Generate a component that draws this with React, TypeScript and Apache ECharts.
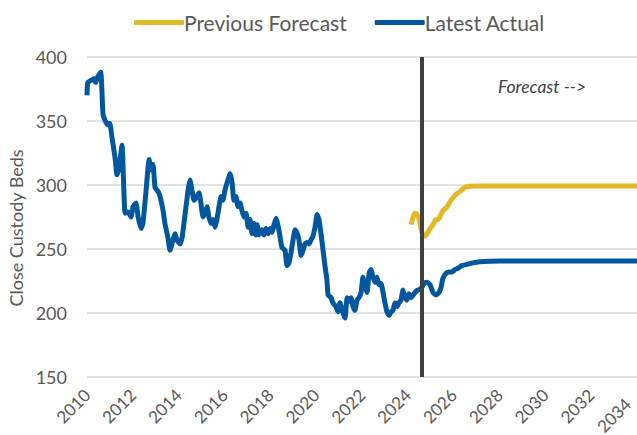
import React, { useEffect, useRef } from "react";
import * as echarts from "echarts";

const xTicks = { min: 2010, max: 2034, interval: 2 };
const yTicks = { min: 150, max: 400, interval: 50 };
const forecastStart = 2024.6;

const latestActual: [number, number][] = [
  [2010.0, 370], [2010.04, 380], [2010.31, 383], [2010.38, 380], [2010.45, 384], [2010.6, 388],
  [2010.7, 355], [2010.83, 349], [2010.92, 347], [2011.0, 348], [2011.09, 337], [2011.22, 322],
  [2011.31, 308], [2011.4, 314], [2011.53, 331], [2011.66, 278], [2011.79, 279], [2011.92, 275],
  [2012.01, 283], [2012.14, 286], [2012.23, 275], [2012.36, 266], [2012.44, 270], [2012.57, 294],
  [2012.71, 320], [2012.79, 312], [2012.88, 316], [2012.97, 298], [2013.1, 295], [2013.19, 291],
  [2013.32, 280], [2013.4, 270], [2013.53, 259], [2013.62, 249], [2013.75, 257], [2013.84, 262],
  [2013.93, 257], [2014.06, 254], [2014.15, 259], [2014.23, 270], [2014.32, 283], [2014.41, 296],
  [2014.49, 304], [2014.58, 296], [2014.67, 288], [2014.8, 291], [2014.89, 294], [2014.97, 286],
  [2015.06, 275], [2015.15, 278], [2015.24, 283], [2015.32, 275], [2015.41, 270], [2015.5, 273],
  [2015.59, 267], [2015.67, 273], [2015.76, 283], [2015.85, 291], [2015.93, 288], [2016.02, 296],
  [2016.15, 304], [2016.24, 309], [2016.33, 302], [2016.41, 288], [2016.5, 291], [2016.59, 283],
  [2016.68, 286], [2016.76, 280], [2016.85, 275], [2016.94, 278], [2017.03, 267], [2017.11, 273],
  [2017.2, 262], [2017.29, 270], [2017.37, 261], [2017.42, 269], [2017.51, 261], [2017.64, 265],
  [2017.72, 261], [2017.81, 266], [2017.9, 262], [2017.99, 266], [2018.07, 263], [2018.16, 269],
  [2018.25, 274], [2018.33, 269], [2018.42, 260], [2018.51, 251], [2018.64, 249], [2018.73, 237],
  [2018.81, 239], [2018.9, 247], [2018.99, 257], [2019.08, 265], [2019.16, 263], [2019.25, 257],
  [2019.34, 245], [2019.43, 249], [2019.51, 254], [2019.6, 255], [2019.69, 254], [2019.77, 257],
  [2019.86, 260], [2019.95, 267], [2020.04, 277], [2020.12, 273], [2020.21, 262], [2020.3, 249],
  [2020.39, 236], [2020.47, 226], [2020.52, 214], [2020.65, 212], [2020.73, 208], [2020.86, 205],
  [2020.95, 201], [2021.04, 208], [2021.17, 200], [2021.26, 196], [2021.35, 212], [2021.43, 209],
  [2021.52, 212], [2021.61, 205], [2021.69, 202], [2021.78, 210], [2021.87, 212], [2021.96, 216],
  [2022.04, 228], [2022.13, 222], [2022.22, 216], [2022.31, 231], [2022.39, 234], [2022.48, 228],
  [2022.57, 224], [2022.65, 228], [2022.74, 222], [2022.83, 223], [2022.92, 216], [2023.0, 208],
  [2023.09, 201], [2023.18, 198], [2023.27, 201], [2023.35, 202], [2023.44, 208], [2023.53, 205],
  [2023.61, 208], [2023.7, 210], [2023.79, 218], [2023.88, 212], [2023.96, 210], [2024.05, 215],
  [2024.14, 212], [2024.23, 214], [2024.31, 216], [2024.44, 218], [2024.57, 219], [2024.71, 223],
  [2024.84, 224], [2024.97, 222], [2025.1, 216], [2025.23, 214], [2025.36, 216], [2025.45, 220],
  [2025.53, 227], [2025.67, 231], [2025.8, 232], [2025.93, 232], [2026.06, 234], [2026.19, 235],
  [2026.36, 237], [2026.58, 238], [2026.8, 239], [2027.15, 240], [2027.59, 240.5], [2028.02, 240.6],
  [2034.0, 240.6],
];

const previousForecast: [number, number][] = [
  [2024.14, 269], [2024.23, 275], [2024.31, 278], [2024.4, 277], [2024.49, 273], [2024.57, 266],
  [2024.66, 261], [2024.75, 260], [2024.84, 262], [2024.97, 266], [2025.1, 269], [2025.23, 273],
  [2025.32, 273], [2025.45, 277], [2025.53, 280], [2025.67, 282], [2025.75, 284], [2025.88, 288],
  [2026.06, 292], [2026.28, 295], [2026.49, 298], [2026.71, 299], [2027.15, 299.3], [2034.0, 299.3],
];

const FONT = "Lato, 'Noto Sans', sans-serif";
const GRAY = "#595959";
const BLUE = "#00579E";
const YELLOW = "#E2B829";

export default function App() {
  const ref = useRef<HTMLDivElement>(null);
  useEffect(() => {
    if (!ref.current) return;
    const chart = echarts.init(ref.current, undefined, { renderer: "svg", width: 637, height: 435 });
    chart.setOption({
      animation: false,
      textStyle: { fontFamily: FONT },
      legend: {
        top: 7,
        left: 129,
        itemWidth: 50,
        itemHeight: 5,
        itemGap: 28,
        icon: "roundRect",
        textStyle: { fontFamily: FONT, fontSize: 21, color: GRAY, padding: [0, 0, 0, -5] },
        data: ["Previous Forecast", "Latest Actual"],
      },
      grid: { left: 87, right: 0, top: 57, bottom: 58, containLabel: false, outerBoundsMode: "none" },
      xAxis: {
        type: "value",
        min: xTicks.min,
        max: xTicks.max,
        interval: xTicks.interval,
        axisLine: { show: false },
        axisTick: { show: false },
        splitLine: { show: false },
        axisLabel: {
          rotate: 45,
          margin: 15,
          fontSize: 17,
          color: GRAY,
          fontFamily: FONT,
          hideOverlap: false,
          formatter: (v: number) => (v === xTicks.max ? `{last|${v}}` : String(v)),
          rich: {
            last: { fontSize: 17, color: GRAY, fontFamily: FONT, padding: [0, 13, 0, 0] },
          },
        },
      },
      yAxis: {
        type: "value",
        min: yTicks.min,
        max: yTicks.max,
        interval: yTicks.interval,
        name: "Close Custody Beds",
        nameLocation: "middle",
        nameGap: 60,
        nameTextStyle: { fontSize: 18, color: GRAY, fontFamily: FONT, padding: [0, 22, 0, 0] },
        axisLine: { show: false },
        axisTick: { show: false },
        splitLine: { lineStyle: { color: "#D9D9D9", width: 1.5 } },
        axisLabel: { fontSize: 18, color: GRAY, fontFamily: FONT, margin: 20 },
      },
      series: [
        {
          name: "Previous Forecast",
          type: "line",
          data: previousForecast,
          showSymbol: false,
          smooth: 0.3,
          lineStyle: { color: YELLOW, width: 5 },
          itemStyle: { color: YELLOW },
          z: 3,
        },
        {
          name: "Latest Actual",
          type: "line",
          data: latestActual,
          showSymbol: false,
          smooth: 0.15,
          lineStyle: { color: BLUE, width: 5 },
          itemStyle: { color: BLUE },
          z: 3,
          markLine: {
            silent: true,
            symbol: "none",
            label: { show: false },
            lineStyle: { color: "#404040", width: 4, type: "solid" },
            data: [{ xAxis: forecastStart }],
            z: 5,
          },
        },
      ],
      graphic: [
        {
          type: "text",
          left: 498,
          top: 77,
          style: {
            text: "Forecast -->",
            fontFamily: FONT,
            fontStyle: "italic",
            fontSize: 17.5,
            fill: "#404040",
          },
        },
      ],
    });
    return () => chart.dispose();
  }, []);
  return <div ref={ref} style={{ width: 637, height: 435, position: "absolute", left: 0, top: 0 }} />;
}
